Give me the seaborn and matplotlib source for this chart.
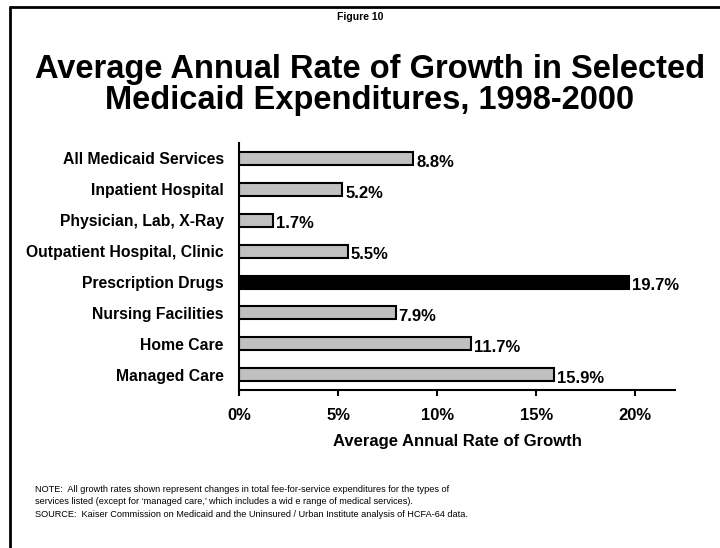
import matplotlib
matplotlib.use("Agg")
import matplotlib.pyplot as plt
import seaborn as sns
import pandas as pd
from matplotlib.lines import Line2D

categories = ["All Medicaid Services", "Inpatient Hospital", "Physician, Lab, X-Ray",
              "Outpatient Hospital, Clinic", "Prescription Drugs", "Nursing Facilities",
              "Home Care", "Managed Care"]
values = [8.8, 5.2, 1.7, 5.5, 19.7, 7.9, 11.7, 15.9]
labels = ["8.8%", "5.2%", "1.7%", "5.5%", "19.7%", "7.9%", "11.7%", "15.9%"]
colors = ["#C0C0C0", "#C0C0C0", "#C0C0C0", "#C0C0C0", "#000000", "#C0C0C0", "#C0C0C0", "#C0C0C0"]
xticks = [0, 5, 10, 15, 20]
xticklabels = ["0%", "5%", "10%", "15%", "20%"]

sns.set_style("white")
plt.rcParams['font.family'] = ['Liberation Sans', 'DejaVu Sans']
plt.rcParams['text.color'] = 'black'
plt.rcParams['axes.labelcolor'] = 'black'
plt.rcParams['xtick.color'] = 'black'
plt.rcParams['ytick.color'] = 'black'

df = pd.DataFrame({"cat": categories, "val": values})

fig = plt.figure(figsize=(7.2, 5.48), dpi=100)
ax = fig.add_axes([0.332, 0.288, 0.6055, 0.451])

sns.barplot(data=df, x="val", y="cat", hue="cat", palette=colors, legend=False,
            width=0.42, edgecolor="black", linewidth=1.5, ax=ax, saturation=1)

for i, (v, lab) in enumerate(zip(values, labels)):
    ax.text(v + 0.15, i + 0.12, lab, ha="left", va="center", fontsize=12,
            fontweight="bold", color="black")

ax.set_xlim(0, 22)
ax.set_ylim(7.5, -0.5)
ax.set_xticks(xticks)
ax.set_xticklabels(xticklabels, fontsize=12, fontweight="bold")
ax.set_yticks(range(len(categories)))
ax.set_yticklabels(categories, fontsize=11.3, fontweight="bold")
ax.tick_params(axis="x", direction="out", length=4, width=1.5, pad=9, color="black", bottom=True)
ax.tick_params(axis="y", length=0, pad=11)
ax.set_xlabel("Average Annual Rate of Growth", fontsize=12, fontweight="bold", labelpad=8)
ax.set_ylabel("")
for s in ["top", "right"]:
    ax.spines[s].set_visible(False)
for s in ["left", "bottom"]:
    ax.spines[s].set_color("black")
    ax.spines[s].set_linewidth(1.5)

fig.text(0.5, 1 - 17 / 548, "Figure 10", ha="center", va="center", fontsize=7.5, fontweight="bold")
fig.text(370 / 720, 1 - 85 / 548, "Average Annual Rate of Growth in Selected\nMedicaid Expenditures, 1998-2000",
         ha="center", va="center", fontsize=23.5, fontweight="bold", linespacing=1.04)

notes = ("NOTE:  All growth rates shown represent changes in total fee-for-service expenditures for the types of\n"
         "services listed (except for \u2018managed care,\u2019 which includes a wid e range of medical services).\n"
         "SOURCE:  Kaiser Commission on Medicaid and the Uninsured / Urban Institute analysis of HCFA-64 data.")
fig.text(35 / 720, 1 - 502 / 548, notes, ha="left", va="center", fontsize=6.6,
         linespacing=1.55)

# frame lines (top and left)
fig.add_artist(Line2D([10 / 720, 10 / 720], [1 - 7 / 548, 0], transform=fig.transFigure, color="black", lw=2))
fig.add_artist(Line2D([10 / 720, 1], [1 - 7 / 548, 1 - 7 / 548], transform=fig.transFigure, color="black", lw=2))

fig.savefig("out.png", dpi=100, facecolor="white")
